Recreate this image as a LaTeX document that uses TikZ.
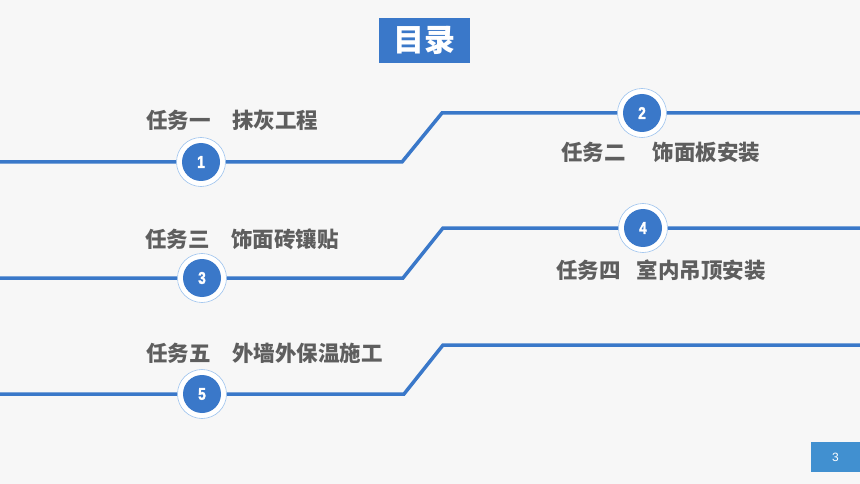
\documentclass[tikz,border=0pt]{standalone}
\usepackage{fontspec}
\setmainfont{Liberation Sans}
\newfontfamily\cjk{Noto Sans CJK SC}
\newfontfamily\numfont{Liberation Sans Bold}[FakeStretch=0.8,FakeBold=2]
\definecolor{mainblue}{HTML}{3A78C9}
\definecolor{ringblue}{HTML}{9DC3EE}
\definecolor{pageblue}{HTML}{4190D0}
\definecolor{taskgray}{HTML}{5E5E5E}
\definecolor{bggray}{HTML}{F7F7F7}

\begin{document}
\begin{tikzpicture}[x=1pt,y=-1pt,
    track/.style={draw=mainblue,line width=3.5pt},
    ring/.style={circle,minimum size=49pt,inner sep=0pt,fill=white,draw=ringblue,line width=0.6pt,
      path picture={\fill[mainblue] (path picture bounding box.center) circle (19pt);},
      text=white,font=\numfont\fontsize{17}{17}\selectfont},
    task/.style={anchor=west,inner sep=0pt,text=taskgray,font=\cjk\bfseries\fontsize{21.5}{21.5}\selectfont}]
    \fill[bggray] (0,0) rectangle (860,484);
    \useasboundingbox (0,0) rectangle (860,484);

    \node[fill=mainblue,minimum width=91pt,minimum height=45pt,text=white,
      font=\cjk\bfseries\fontsize{31}{31}\selectfont] (title) at (424.5,40.5) {目录};
    \node[fill=pageblue,minimum width=49pt,minimum height=30pt,text=white,
      font=\fontsize{12}{12}\selectfont] (page) at (835.5,457) {3};

    \node[ring] (c1) at (201,162) {1};
    \node[ring] (c2) at (642,113) {2};
    \node[ring] (c3) at (202,278) {3};
    \node[ring] (c4) at (643,228) {4};
    \node[ring] (c5) at (202,394) {5};

    \coordinate (l1) at (0,162);   \coordinate (b1) at (402,162);
    \coordinate (u1) at (442,113); \coordinate (r1) at (860,113);
    \coordinate (l2) at (0,278);   \coordinate (b2) at (403,278);
    \coordinate (u2) at (443,228); \coordinate (r2) at (860,228);
    \coordinate (l3) at (0,394);   \coordinate (b3) at (404,394);
    \coordinate (u3) at (443,345); \coordinate (r3) at (860,345);

    \draw[track] (l1) -- (c1) -- (b1) -- (u1) -- (c2) -- (r1);
    \draw[track] (l2) -- (c3) -- (b2) -- (u2) -- (c4) -- (r2);
    \draw[track] (l3) -- (c5) -- (b3) -- (u3) -- (r3);

    \node[task] (t1) at (146,120) {任务一　抹灰工程};
    \node[task] (t2) at (561,152) {任务二\hspace{1.25em}饰面板安装};
    \node[task] (t3) at (145,239) {任务三　饰面砖镶贴};
    \node[task] (t4) at (556,270) {任务四\hspace{0.75em}室内吊顶安装};
    \node[task] (t5) at (146,353) {任务五　外墙外保温施工};
\end{tikzpicture}
\end{document}
